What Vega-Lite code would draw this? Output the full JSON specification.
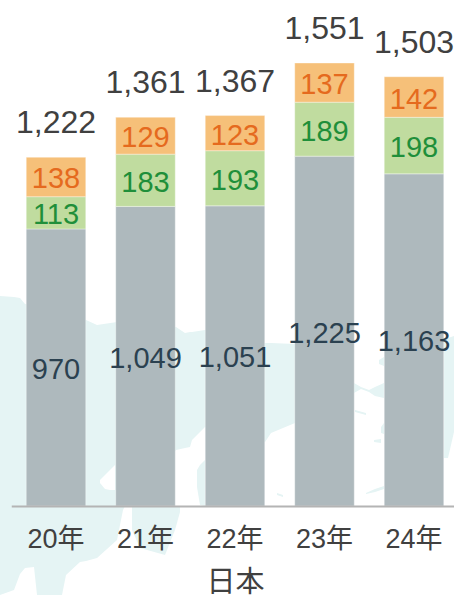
{"$schema":"https://vega.github.io/schema/vega-lite/v6.json","width":447.5,"height":506,"autosize":{"type":"none"},"padding":{"left":11.25,"top":0,"right":0,"bottom":89},"background":"#ffffff","view":{"stroke":null},
"config":{"font":"Liberation Sans, Noto Sans CJK JP, sans-serif"},
"datasets":{
"bars":[
{"year":"20年","series":"a","k":1,"value":970},{"year":"20年","series":"b","k":2,"value":113},{"year":"20年","series":"c","k":3,"value":138},
{"year":"21年","series":"a","k":1,"value":1049},{"year":"21年","series":"b","k":2,"value":183},{"year":"21年","series":"c","k":3,"value":129},
{"year":"22年","series":"a","k":1,"value":1051},{"year":"22年","series":"b","k":2,"value":193},{"year":"22年","series":"c","k":3,"value":123},
{"year":"23年","series":"a","k":1,"value":1225},{"year":"23年","series":"b","k":2,"value":189},{"year":"23年","series":"c","k":3,"value":137},
{"year":"24年","series":"a","k":1,"value":1163},{"year":"24年","series":"b","k":2,"value":198},{"year":"24年","series":"c","k":3,"value":142}],
"totals":[{"year":"20年","total":1222},{"year":"21年","total":1361},{"year":"22年","total":1367},{"year":"23年","total":1551},{"year":"24年","total":1503}],
"land":[
{"p":"A","x":0,"t":296,"b":595},{"p":"A","x":14,"t":297,"b":590},{"p":"A","x":20,"t":298,"b":574},{"p":"A","x":25,"t":304,"b":568},{"p":"A","x":34,"t":306,"b":567},{"p":"A","x":37,"t":307,"b":595},{"p":"A","x":62,"t":312,"b":595},{"p":"A","x":66,"t":313,"b":575},{"p":"A","x":80,"t":318,"b":562},{"p":"A","x":86,"t":320,"b":561},{"p":"A","x":97,"t":325,"b":558},{"p":"A","x":117,"t":322,"b":540},{"p":"A","x":123,"t":322,"b":510},{"p":"A","x":125,"t":323,"b":506},{"p":"A","x":176,"t":327,"b":450},{"p":"A","x":185,"t":333,"b":448},{"p":"A","x":190,"t":332,"b":447},{"p":"A","x":192,"t":332,"b":440},{"p":"A","x":205,"t":330,"b":427},{"p":"A","x":265,"t":343,"b":442},{"p":"A","x":271,"t":343,"b":433},{"p":"A","x":295,"t":344,"b":423},{"p":"A","x":354,"t":383,"b":393},{"p":"A","x":361,"t":387,"b":389},{"p":"A","x":369,"t":390,"b":392},{"p":"A","x":375,"t":387,"b":396},{"p":"A","x":384,"t":383,"b":398},
{"p":"B","x":132,"t":507,"b":530},{"p":"B","x":140,"t":507,"b":548},{"p":"B","x":165,"t":507,"b":555},{"p":"B","x":175,"t":507,"b":530},{"p":"B","x":180,"t":507,"b":512},
{"p":"D","x":197,"t":470,"b":487},{"p":"D","x":200,"t":465,"b":505},{"p":"D","x":205,"t":460,"b":506},
{"p":"E","x":444,"t":338,"b":458},{"p":"E","x":448,"t":338,"b":458},{"p":"E","x":454,"t":336,"b":432},
{"p":"F","x":379,"t":360,"b":364},{"p":"F","x":384,"t":357,"b":366},
{"p":"G","x":381,"t":427,"b":433},{"p":"G","x":384,"t":423,"b":434},
{"p":"H","x":374,"t":440,"b":442},{"p":"H","x":381,"t":439,"b":443},
{"p":"I","x":366,"t":493,"b":494},{"p":"I","x":375,"t":489,"b":492},{"p":"I","x":384,"t":486,"b":489},
{"p":"J","x":355,"t":410,"b":412},{"p":"J","x":366,"t":413,"b":415},
{"p":"K","x":277,"t":493,"b":495},{"p":"K","x":283,"t":495,"b":497}],
"sea":[{"p":"W","x":100,"t":480,"b":483},{"p":"W","x":105,"t":475,"b":489},{"p":"W","x":110,"t":470,"b":490},{"p":"W","x":115,"t":465,"b":490}]},
"layer":[
{"data":{"name":"land"},"mark":{"type":"area","color":"#e5f4f4","interpolate":"linear"},"encoding":{"x":{"field":"x","type":"quantitative","scale":{"domain":[11.25,458.75],"nice":false,"zero":false},"axis":null},"y":{"field":"t","type":"quantitative","scale":{"domain":[506,0],"nice":false},"axis":null},"y2":{"field":"b"},"detail":{"field":"p"}}},
{"data":{"name":"sea"},"mark":{"type":"area","color":"#ffffff"},"encoding":{"x":{"field":"x","type":"quantitative","scale":{"domain":[11.25,458.75],"nice":false,"zero":false},"axis":null},"y":{"field":"t","type":"quantitative","scale":{"domain":[506,0],"nice":false},"axis":null},"y2":{"field":"b"}}},
{"layer":[
{"data":{"name":"bars"},"mark":{"type":"bar","stroke":"#ffffff","strokeWidth":0.5,"strokeOpacity":0.7},"encoding":{"x":{"field":"year","type":"nominal","title":"日本","scale":{"type":"band","paddingInner":0.335,"paddingOuter":0.1675},"axis":{"zindex":1,"domainColor":"#b4b4b4","domainWidth":2,"ticks":false,"labelAngle":0,"labelFontSize":27,"labelColor":"#404040","labelPadding":20,"titleFontSize":29,"titleFontWeight":"normal","titleColor":"#404040","titlePadding":16}},"y":{"field":"value","type":"quantitative","stack":"zero","scale":{"domain":[0,1771.7],"nice":false},"axis":null},"order":{"field":"k"},"color":{"field":"series","type":"nominal","scale":{"domain":["a","b","c"],"range":["#aeb9bd","#c0dc9f","#f6c079"]},"legend":null}}},
{"data":{"name":"bars"},"mark":{"type":"text","fontSize":29,"baseline":"middle","dy":2.5},"encoding":{"x":{"field":"year","type":"nominal"},"y":{"field":"value","type":"quantitative","stack":"zero","bandPosition":0.5},"order":{"field":"k"},"text":{"field":"value","type":"quantitative","format":","},"color":{"field":"series","type":"nominal","scale":{"domain":["a","b","c"],"range":["#2b4150","#1f8f3a","#e56a1e"]},"legend":null}}},
{"data":{"name":"totals"},"mark":{"type":"text","fontSize":32,"baseline":"middle","dy":-34,"color":"#404040"},"encoding":{"x":{"field":"year","type":"nominal"},"y":{"field":"total","type":"quantitative"},"text":{"field":"total","type":"quantitative","format":","}}}
],"resolve":{"scale":{"color":"independent"}}}
],
"resolve":{"scale":{"x":"independent","y":"independent"},"axis":{"x":"independent","y":"independent"}}}
